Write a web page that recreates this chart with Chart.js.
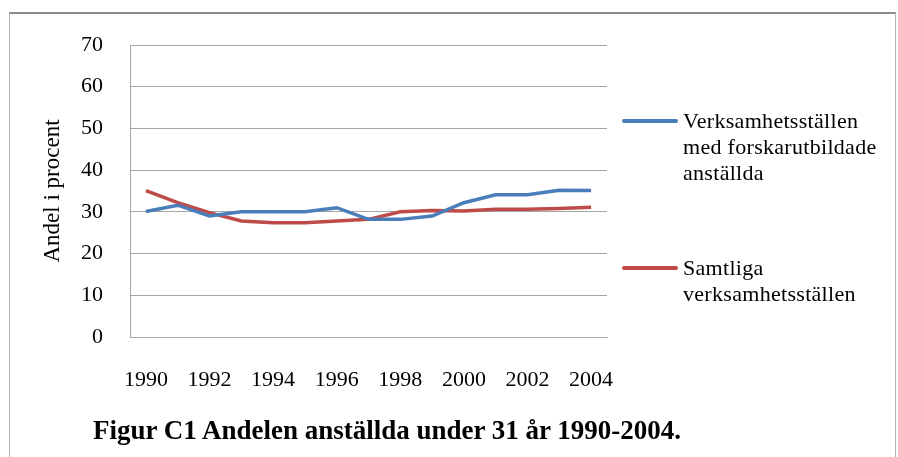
<!DOCTYPE html>
<html>
<head>
<meta charset="utf-8">
<script src="https://cdn.jsdelivr.net/npm/chart.js@4"></script>
<style>
    body { margin: 0; background: #fff; }
    #wrap { position: relative; width: 898px; height: 457px; overflow: hidden; font-family: "Liberation Serif", serif; }
    #frame { position: absolute; left: 9px; top: 12px; width: 887px; height: 460px; border-top: 2px solid #8c8c8c; border-left: 1px solid #b4b4b4; border-right: 1px solid #b4b4b4; box-sizing: border-box; }
    canvas { position: absolute; left: 0; top: 0; }
    .legend-item { position: absolute; left: 622px; }
    .legend-line { position: absolute; left: 0; width: 56px; height: 4px; border-radius: 2px; }
    .legend-text { position: absolute; left: 61px; font-size: 22px; line-height: 26px; letter-spacing: 0.3px; color: #000; white-space: nowrap; }
    #caption { position: absolute; left: 93px; top: 415px; font-size: 27px; font-weight: bold; color: #000; white-space: nowrap; }
</style>
</head>
<body>
<div id="wrap">
    <div id="frame"></div>
    <canvas id="chart" width="898" height="457"></canvas>
    <div id="legend"></div>
    <div id="caption">Figur C1 Andelen anställda under 31 år 1990-2004.</div>
</div>
<script>
// Years on the x axis
const years = ['1990', '1991', '1992', '1993', '1994', '1995', '1996', '1997',
    '1998', '1999', '2000', '2001', '2002', '2003', '2004'];
// Share of employees under 31 (%)
const forskarValues = [30.1, 31.6, 29.0, 30.0, 30.0, 30.0, 31.0, 28.2, 28.2, 29.0, 32.2, 34.1, 34.1, 35.2, 35.1];
const samtligaValues = [35.1, 32.2, 29.8, 27.8, 27.4, 27.4, 27.8, 28.2, 30.0, 30.3, 30.2, 30.6, 30.6, 30.8, 31.1];
const yTicks = [0, 10, 20, 30, 40, 50, 60, 70];

const seriesNames = [
    ['Verksamhetsställen', 'med forskarutbildade', 'anställda'],
    ['Samtliga', 'verksamhetsställen']
];
const seriesColors = ['#4a7ebb', '#be4b48'];

const gridColor = '#a6a6a6';
const font = { family: '"Liberation Serif", serif', size: 22 };

const ctx = document.getElementById('chart').getContext('2d');
new Chart(ctx, {
    type: 'line',
    data: {
        labels: years,
        datasets: [{
            label: seriesNames[0].join(' '),
            data: forskarValues,
            borderColor: seriesColors[0],
            borderWidth: 3.5,
            pointRadius: 0,
            tension: 0,
            fill: false
        }, {
            label: seriesNames[1].join(' '),
            data: samtligaValues,
            borderColor: seriesColors[1],
            borderWidth: 3.5,
            pointRadius: 0,
            tension: 0,
            fill: false
        }]
    },
    options: {
        responsive: false,
        animation: false,
        layout: { padding: { top: 45, right: 291, left: 0, bottom: 0 } },
        plugins: {
            legend: { display: false },
            tooltip: { enabled: false }
        },
        scales: {
            x: {
                offset: true,
                grid: { display: false, drawTicks: false },
                border: { display: true, color: gridColor, width: 1 },
                ticks: {
                    autoSkip: false,
                    maxRotation: 0,
                    color: '#000',
                    font: font,
                    padding: 30,
                    // only every second year gets a label
                    callback: function(value, index) {
                        return index % 2 === 0 ? years[index] : '';
                    }
                },
                afterFit: function(scale) { scale.height = 120; }
            },
            y: {
                min: 0,
                max: 70,
                afterBuildTicks: function(scale) {
                    scale.ticks = yTicks.map(v => ({ value: v }));
                },
                grid: { color: gridColor, lineWidth: 1, drawTicks: false },
                border: { display: true, color: gridColor, width: 1 },
                ticks: { color: '#000', font: font, padding: 27 },
                title: {
                    display: true,
                    text: 'Andel i procent',
                    color: '#000',
                    font: { family: font.family, size: 23 },
                    padding: { top: 39, bottom: 0 }
                },
                afterFit: function(scale) { scale.width = 130; }
            }
        }
    }
});

// Legend on the right, with wrapped series names
const legendEl = document.getElementById('legend');
const legendTops = [121, 268];
seriesNames.forEach((lines, i) => {
    const item = document.createElement('div');
    item.className = 'legend-item';
    item.style.top = legendTops[i] + 'px';
    item.innerHTML = `
 <div class="legend-line" style="top:-2px;background:${seriesColors[i]}"></div>
 <div class="legend-text" style="top:-13px">${lines.join('<br>')}</div>
 `;
    legendEl.appendChild(item);
});
</script>
</body>
</html>
